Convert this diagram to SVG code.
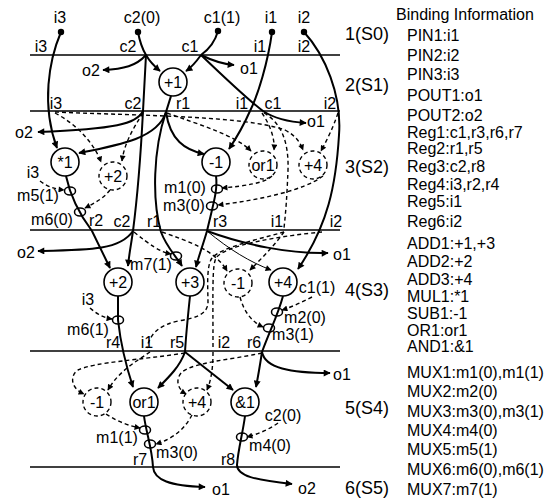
<svg xmlns="http://www.w3.org/2000/svg" width="554" height="501" viewBox="0 0 554 501">
<style>
text{font-family:"Liberation Sans",Arial,sans-serif;font-size:16px;fill:#000}
.c{text-anchor:middle}
.st{font-size:18px}
.w{fill:none;stroke:#000;stroke-width:2}
.t{fill:none;stroke:#000;stroke-width:1}
.d{fill:none;stroke:#000;stroke-width:1.4;stroke-dasharray:4 3}
.rule{stroke:#000;stroke-width:1.3}
.n{fill:#fff;stroke:#000;stroke-width:1.6}
.dn{fill:none;stroke:#000;stroke-width:1.4;stroke-dasharray:4 3}
.m{fill:none;stroke:#000;stroke-width:1.5}
</style>
<defs>
<marker id="a" viewBox="0 0 10 10" refX="9" refY="5" markerWidth="9" markerHeight="7" markerUnits="userSpaceOnUse" orient="auto"><path d="M0,0 L10,5 L0,10 z"/></marker>
<marker id="b" viewBox="0 0 10 10" refX="9" refY="5" markerWidth="7" markerHeight="6" markerUnits="userSpaceOnUse" orient="auto"><path d="M0,0 L10,5 L0,10 z"/></marker>
</defs>
<rect width="554" height="501" fill="#fff"/>
<g id="rules">
<line class="rule" x1="30" y1="55" x2="340" y2="55"/>
<line class="rule" x1="30" y1="111" x2="340" y2="111"/>
<line class="rule" x1="30" y1="230" x2="340" y2="230"/>
<line class="rule" x1="30" y1="351" x2="340" y2="351"/>
<line class="rule" x1="30" y1="467" x2="340" y2="467"/>
</g>
<g id="connectors">
<path class="w" d="M61,32 C49,60 41,105 57,148" marker-end="url(#a)"/>
<path class="w" d="M138,32 C140,43 143,50 146,55 C145,75 144,95 143,111 C141,150 137,200 133,231"/>
<path class="w" d="M133,231 C131,245 129,255 128,266" marker-end="url(#a)"/>
<path class="w" d="M146,55 C150,62 154,66 160,71" marker-end="url(#a)"/>
<path class="w" d="M146,55 C136,66 124,69 103,70" marker-end="url(#a)"/>
<path class="w" d="M218,31 C215,42 208,50 201,55"/>
<path class="w" d="M201,55 C196,62 192,67 186,71" marker-end="url(#a)"/>
<path class="w" d="M201,55 C213,61 222,64 234,65" marker-end="url(#a)"/>
<path class="w" d="M201,55 C225,78 248,100 263,111 C275,119 290,122 306,123" marker-end="url(#a)"/>
<path class="w" d="M272,32 C268,62 258,95 250,111 C243,127 235,140 229,149" marker-end="url(#a)"/>
<path class="w" d="M304,32 C325,55 342,95 339,135 C336,185 328,225 298,269" marker-end="url(#a)"/>
<path class="w" d="M171,96 L166,112"/>
<path class="w" d="M143,111 C137,124 115,129 38,132" marker-end="url(#a)"/>
<path class="w" d="M166,112 C158,138 120,145 79,153" marker-end="url(#a)"/>
<path class="w" d="M166,112 C170,140 185,150 204,154" marker-end="url(#a)"/>
<path class="w" d="M166,112 C153,150 152,200 161,232 C166,246 175,255 182,266" marker-end="url(#a)"/>
<path class="w" d="M66,176 C70,195 80,215 92,231 L110,268" marker-end="url(#a)"/>
<path class="w" d="M216,176 C218,190 213,205 207,231"/>
<path class="w" d="M207,231 C203,245 199,255 196,267" marker-end="url(#a)"/>
<path class="t" d="M207,231 C230,250 250,262 271,270" marker-end="url(#b)"/>
<path class="w" d="M207,231 C245,245 290,254 328,253" marker-end="url(#a)"/>
<path class="w" d="M133,231 C120,250 90,250 38,251" marker-end="url(#a)"/>
<path class="w" d="M118,296 L118,320 C120,338 124,360 133,387" marker-end="url(#a)"/>
<path class="w" d="M190,296 C188,315 186,335 185,352"/>
<path class="w" d="M283,296 C278,315 270,330 262,352"/>
<path class="w" d="M185,352 C180,366 170,376 158,388" marker-end="url(#a)"/>
<path class="w" d="M185,352 L233,390" marker-end="url(#a)"/>
<path class="w" d="M262,352 C260,365 258,377 256,387" marker-end="url(#a)"/>
<path class="w" d="M262,352 C265,368 290,373 330,373" marker-end="url(#a)"/>
<path class="w" d="M144,416 C146,432 152,448 153,467 C154,480 170,486 205,487" marker-end="url(#a)"/>
<path class="w" d="M245,416 C243,432 238,450 237,465 C237,476 255,480 292,484" marker-end="url(#a)"/>
<path class="d" d="M55,113 C78,125 95,145 101,162" marker-end="url(#b)"/>
<path class="d" d="M143,113 C132,130 124,145 122,161" marker-end="url(#b)"/>
<path class="d" d="M110,190 C104,198 95,203 85,208" marker-end="url(#b)"/>
<path class="d" d="M40,181 C48,187 55,189 64,190" marker-end="url(#b)"/>
<path class="d" d="M55,112 C150,116 245,116 285,130 C296,136 300,142 303,150" marker-end="url(#b)"/>
<path class="d" d="M167,113 C200,125 235,135 251,151" marker-end="url(#b)"/>
<path class="d" d="M262,113 C270,125 275,138 274,150" marker-end="url(#b)"/>
<path class="d" d="M264,113 C280,122 289,140 288,170 C287,195 286,210 284,228"/>
<path class="d" d="M338,113 C333,128 327,140 321,151" marker-end="url(#b)"/>
<path class="d" d="M272,176 C265,183 245,186 222,188" marker-end="url(#b)"/>
<path class="d" d="M323,176 C305,190 260,200 218,205" marker-end="url(#b)"/>
<path class="d" d="M134,232 C150,245 160,252 171,254" marker-end="url(#b)"/>
<path class="d" d="M162,232 C190,242 215,250 227,271" marker-end="url(#b)"/>
<path class="d" d="M284,232 C275,245 262,258 250,270" marker-end="url(#b)"/>
<path class="d" d="M284,232 C255,240 220,248 212,258 C206,266 208,290 208,303 C207,315 195,318 178,321 C160,325 150,333 147,348"/>
<path class="d" d="M322,232 C280,236 225,245 216,258 C212,266 213,290 213,349"/>
<path class="d" d="M240,297 C244,312 252,322 263,327" marker-end="url(#b)"/>
<path class="d" d="M312,297 C302,302 292,307 282,310" marker-end="url(#b)"/>
<path class="d" d="M90,308 C98,315 105,318 112,319" marker-end="url(#b)"/>
<path class="d" d="M185,353 C140,360 95,362 78,370 C70,375 70,388 84,394" marker-end="url(#b)"/>
<path class="d" d="M150,352 C135,362 118,372 108,390" marker-end="url(#b)"/>
<path class="d" d="M262,353 C230,360 195,362 182,372 C176,378 176,388 186,394" marker-end="url(#b)"/>
<path class="d" d="M213,352 C213,365 212,378 207,390" marker-end="url(#b)"/>
<path class="d" d="M106,414 C118,422 130,426 140,428" marker-end="url(#b)"/>
<path class="d" d="M192,415 C185,428 175,438 156,444" marker-end="url(#b)"/>
<path class="d" d="M278,423 C268,430 258,434 247,437" marker-end="url(#b)"/>
</g>
<g id="inputs">
<circle cx="61" cy="32" r="3.2"/><circle cx="138" cy="32" r="3.2"/><circle cx="218" cy="31" r="3.2"/><circle cx="272" cy="32" r="3.2"/><circle cx="304" cy="32" r="3.2"/>
<text class="c" x="60" y="23">i3</text><text class="c" x="142" y="23">c2(0)</text><text class="c" x="222" y="23">c1(1)</text><text class="c" x="271" y="23">i1</text><text class="c" x="304" y="23">i2</text>
</g>
<g id="n_p1"><circle class="n" cx="173" cy="82" r="14"/><text class="c" x="173" y="88">+1</text></g>
<g id="n_m1"><circle class="n" cx="65" cy="162" r="14"/><text class="c" x="65" y="168">*1</text></g>
<g id="n_p2d"><circle class="dn" cx="113" cy="176" r="14"/><text class="c" x="113" y="182">+2</text></g>
<g id="n_s1"><circle class="n" cx="216" cy="162" r="14"/><text class="c" x="216" y="168">-1</text></g>
<g id="n_or1d"><circle class="dn" cx="263" cy="165" r="14"/><text class="c" x="263" y="171">or1</text></g>
<g id="n_p4d"><circle class="dn" cx="313" cy="165" r="14"/><text class="c" x="313" y="171">+4</text></g>
<g id="n_p2"><circle class="n" cx="118" cy="282" r="14"/><text class="c" x="118" y="288">+2</text></g>
<g id="n_p3"><circle class="n" cx="190" cy="282" r="14"/><text class="c" x="190" y="288">+3</text></g>
<g id="n_s1d"><circle class="dn" cx="238" cy="283" r="14"/><text class="c" x="238" y="289">-1</text></g>
<g id="n_p4"><circle class="n" cx="283" cy="282" r="14"/><text class="c" x="283" y="288">+4</text></g>
<g id="n_s1d2"><circle class="dn" cx="97" cy="402" r="14"/><text class="c" x="97" y="408">-1</text></g>
<g id="n_or1"><circle class="n" cx="144" cy="402" r="14"/><text class="c" x="144" y="408">or1</text></g>
<g id="n_p4d2"><circle class="dn" cx="197" cy="402" r="14"/><text class="c" x="197" y="408">+4</text></g>
<g id="n_and1"><circle class="n" cx="245" cy="402" r="14"/><text class="c" x="245" y="408">&amp;1</text></g>
<g id="muxes">
<ellipse class="m" cx="70" cy="191" rx="5.5" ry="4"/>
<ellipse class="m" cx="80" cy="212" rx="5.5" ry="4"/>
<ellipse class="m" cx="217" cy="189" rx="5.5" ry="4"/>
<ellipse class="m" cx="212" cy="206" rx="5.5" ry="4"/>
<ellipse class="m" cx="176" cy="256" rx="5.5" ry="4"/>
<ellipse class="m" cx="118" cy="320" rx="5.5" ry="4"/>
<ellipse class="m" cx="277" cy="312" rx="5.5" ry="4"/>
<ellipse class="m" cx="269" cy="328" rx="5.5" ry="4"/>
<ellipse class="m" cx="145" cy="430" rx="5.5" ry="4"/>
<ellipse class="m" cx="150" cy="444" rx="5.5" ry="4"/>
<ellipse class="m" cx="242" cy="437" rx="5.5" ry="4"/>
</g>
<g id="labels">
<text class="c" x="41" y="52">i3</text><text class="c" x="128" y="52">c2</text><text class="c" x="190" y="52">c1</text><text class="c" x="260" y="52">i1</text><text class="c" x="304" y="52">i2</text>
<text class="c" x="91" y="76">o2</text><text class="c" x="249" y="74">o1</text>
<text class="c" x="56" y="109">i3</text><text class="c" x="133" y="109">c2</text><text class="c" x="183" y="109">r1</text><text class="c" x="242" y="109">i1</text><text class="c" x="273" y="109">c1</text><text class="c" x="330" y="109">i2</text>
<text class="c" x="316" y="127">o1</text><text class="c" x="24" y="138">o2</text>
<text class="c" x="33" y="178">i3</text>
<text class="c" x="38" y="201">m5(1)</text><text class="c" x="52" y="225">m6(0)</text><text class="c" x="96" y="226">r2</text>
<text class="c" x="185" y="193">m1(0)</text><text class="c" x="184" y="211">m3(0)</text>
<text class="c" x="122" y="227">c2</text><text class="c" x="154" y="227">r1</text><text class="c" x="220" y="227">r3</text><text class="c" x="277" y="227">i1</text><text class="c" x="336" y="227">i2</text>
<text class="c" x="26" y="258">o2</text><text class="c" x="342" y="260">o1</text>
<text class="c" x="151" y="270">m7(1)</text>
<text class="c" x="317" y="293">c1(1)</text>
<text class="c" x="88" y="305">i3</text><text class="c" x="88" y="335">m6(1)</text>
<text class="c" x="305" y="323">m2(0)</text><text class="c" x="293" y="340">m3(1)</text>
<text class="c" x="113" y="348">r4</text><text class="c" x="147" y="348">i1</text><text class="c" x="177" y="348">r5</text><text class="c" x="224" y="348">i2</text><text class="c" x="254" y="348">r6</text>
<text class="c" x="342" y="380">o1</text>
<text class="c" x="283" y="421">c2(0)</text>
<text class="c" x="117" y="443">m1(1)</text><text class="c" x="270" y="451">m4(0)</text><text class="c" x="177" y="458">m3(0)</text>
<text class="c" x="140" y="465">r7</text><text class="c" x="228" y="465">r8</text>
<text class="c" x="221" y="495">o1</text><text class="c" x="307" y="494">o2</text>
</g>
<g id="steps">
<text class="st" x="345" y="40">1(S0)</text>
<text class="st" x="345" y="91">2(S1)</text>
<text class="st" x="345" y="173">3(S2)</text>
<text class="st" x="345" y="296">4(S3)</text>
<text class="st" x="345" y="414">5(S4)</text>
<text class="st" x="345" y="494">6(S5)</text>
</g>
<g id="binding">
<text x="396" y="20">Binding Information</text>
<text x="407" y="41">PIN1:i1</text>
<text x="407" y="61">PIN2:i2</text>
<text x="407" y="80">PIN3:i3</text>
<text x="407" y="101">POUT1:o1</text>
<text x="407" y="121">POUT2:o2</text>
<text x="407" y="138">Reg1:c1,r3,r6,r7</text>
<text x="407" y="154">Reg2:r1,r5</text>
<text x="407" y="172">Reg3:c2,r8</text>
<text x="407" y="190">Reg4:i3,r2,r4</text>
<text x="407" y="207">Reg5:i1</text>
<text x="407" y="227">Reg6:i2</text>
<text x="407" y="249">ADD1:+1,+3</text>
<text x="407" y="267">ADD2:+2</text>
<text x="407" y="285">ADD3:+4</text>
<text x="407" y="302">MUL1:*1</text>
<text x="407" y="319">SUB1:-1</text>
<text x="407" y="336">OR1:or1</text>
<text x="407" y="352">AND1:&amp;1</text>
<text x="407" y="378">MUX1:m1(0),m1(1)</text>
<text x="407" y="397">MUX2:m2(0)</text>
<text x="407" y="417">MUX3:m3(0),m3(1)</text>
<text x="407" y="436">MUX4:m4(0)</text>
<text x="407" y="455">MUX5:m5(1)</text>
<text x="407" y="475">MUX6:m6(0),m6(1)</text>
<text x="407" y="495">MUX7:m7(1)</text>
</g>
</svg>
